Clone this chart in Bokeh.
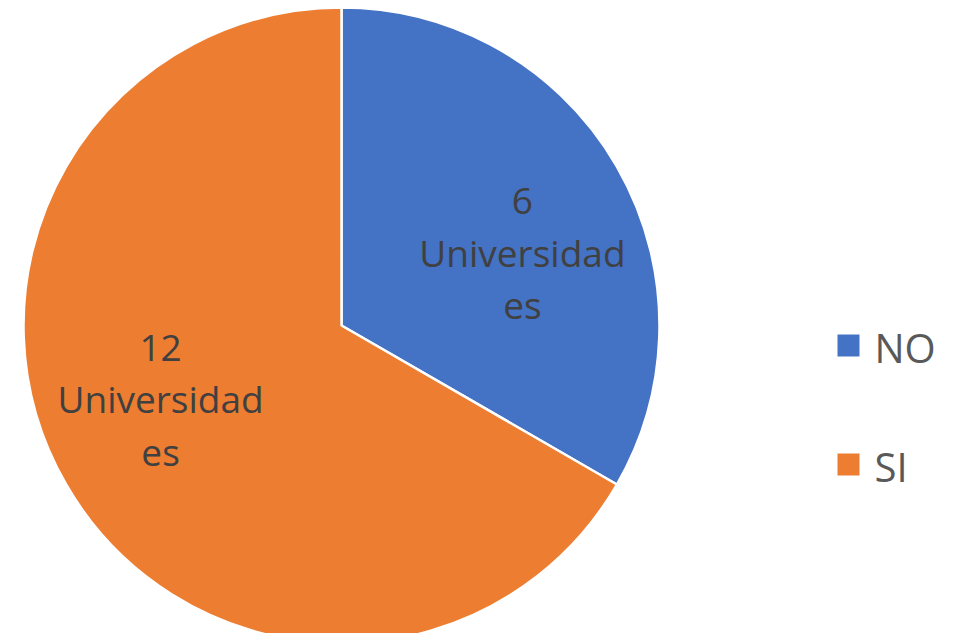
import math
from bokeh.plotting import figure
from bokeh.models import Range1d, ColumnDataSource
from bokeh.core.properties import value
from bokeh.embed import file_html
from bokeh.resources import INLINE

categories = ["NO", "SI"]
counts = [6, 12]
label_texts = ["6\nUniversidad\nes", "12\nUniversidad\nes"]
colors = ["#4472C4", "#ED7D31"]

W, H = 946, 633
p = figure(width=W, height=H, output_backend="svg", toolbar_location=None,
           x_range=Range1d(0, 946), y_range=Range1d(8, 641), min_border=0)
p.axis.visible = False
p.grid.visible = False
p.outline_line_color = None
p.background_fill_color = "white"

cx, cy, R = 341, 316, 318
total = sum(counts)
starts, ends, lx, ly = [], [], [], []
a = math.pi / 2
for c in counts:
    sweep = 2 * math.pi * c / total
    starts.append(a)
    ends.append(a - sweep)
    mid = a - sweep / 2
    lx.append(cx + 0.657 * R * math.cos(mid))
    ly.append(cy + 0.46 * R * math.sin(mid))
    a -= sweep

src = ColumnDataSource(dict(cat=categories, start=starts, end=ends, color=colors,
                            lx=lx, ly=ly, txt=label_texts))
p.wedge(x=cx, y=cy, radius=R, start_angle="start", end_angle="end", direction="clock",
        fill_color="color", line_color="white", line_width=2.5, source=src)

fs = 37
p.text(x="lx", y="ly", text="txt", source=src, text_align="center", text_baseline="middle",
       text_font=value("Open Sans"), text_font_size=f"{fs}px", text_color="#404040",
       text_line_height=1.03)

# legend
leg_y = [296 - i * 119 for i in range(len(categories))]
p.scatter(x=[848] * len(categories), y=leg_y, marker="square", size=22,
          fill_color=colors, line_color=None)
p.text(x=[874] * len(categories), y=[yy - 2 for yy in leg_y], text=categories,
       text_align="left", text_baseline="middle", text_font=value("Open Sans"),
       text_font_size="40px", text_color="#595959")

open("out.html", "w").write(file_html(p, INLINE))
